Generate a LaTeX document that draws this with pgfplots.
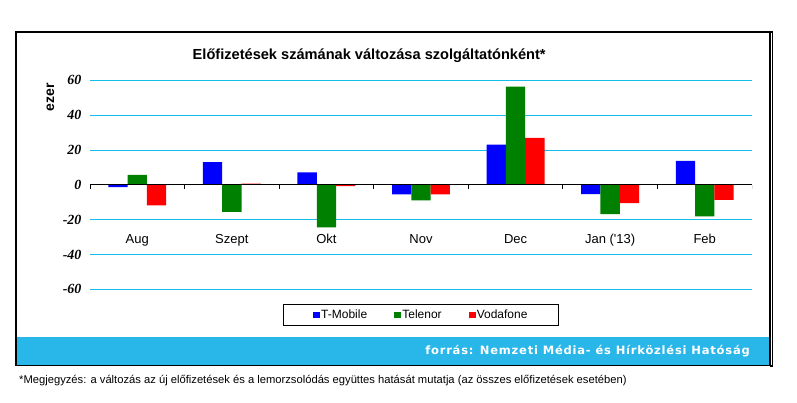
\documentclass[border=0pt]{standalone}
\usepackage{fontspec}
\setmainfont{Liberation Sans}
\newfontfamily\serifbi{Liberation Serif}
\newfontfamily\bandfont[LetterSpace=6.9]{DejaVu Sans}
\usepackage{pgfplots}
\pgfplotsset{compat=1.18}
\definecolor{gridc}{RGB}{20,190,235}
\definecolor{bandc}{RGB}{41,182,232}
\definecolor{tmob}{RGB}{0,0,255}
\definecolor{teln}{RGB}{0,128,0}
\definecolor{voda}{RGB}{255,0,0}
\begin{document}
\begin{tikzpicture}
\useasboundingbox (0,0) rectangle (797pt,-403pt);
\fill[bandc] (16pt,-336.7pt) rectangle (770pt,-365.5pt);
\draw[line width=1.2pt] (16pt,-32pt) rectangle (770pt,-365.5pt);
\draw[line width=1.2pt] (770pt,-32pt) -- (772.8pt,-32pt) -- (772.8pt,-366pt) -- (770pt,-366pt);
\node[anchor=base, inner sep=0, font=\bfseries\fontsize{14.6}{16}\selectfont] at (369.2pt,-59.3pt) {Előfizetések számának változása szolgáltatónként*};
\node[anchor=base, rotate=90, inner sep=0, font=\bfseries\fontsize{14}{16}\selectfont] at (54pt,-97.5pt) {ezer};
\begin{axis}[
  at={(90pt,-289.3pt)}, anchor=south west,
  scale only axis, width=662pt, height=209pt,
  xmin=-0.5, xmax=6.5, ymin=-60, ymax=60,
  axis line style={draw=none},
  ytick={-60,-40,...,60},
  ymajorgrids, grid style={gridc, line width=0.9pt},
  major tick length=0pt,
  xtick={0,...,6},
  xticklabels={Aug,Szept,Okt,Nov,Dec,{Jan (\textquotesingle 13)},Feb},
  xticklabel style={anchor=base, yshift=46pt, font=\fontsize{13}{15}\selectfont},
  yticklabel style={xshift=-5pt, font=\serifbi\bfseries\itshape\fontsize{14}{16}\selectfont},
  /pgf/number format/assume math mode=true,
  ybar=0pt, bar width=19.3pt,
  legend columns=3,
  legend style={at={(axis description cs:0.5,-0.123)}, anchor=center, draw=black, line width=1pt,
    font=\fontsize{12}{14}\selectfont, inner xsep=30pt, inner ysep=4pt,
    nodes={inner sep=1.2pt},
    /tikz/every even column/.append style={column sep=26pt}},
  legend image code/.code={\fill[#1] (0pt,-3.35pt) rectangle (6.7pt,3.35pt);},
]
\addplot[fill=tmob, draw=none] coordinates {(0,-1.3) (1,13.0) (2,7.2) (3,-5.5) (4,23.1) (5,-5.3) (6,13.8)};
\addplot[fill=teln, draw=none] coordinates {(0,5.7) (1,-15.6) (2,-24.5) (3,-9.0) (4,56.4) (5,-16.8) (6,-18.1)};
\addplot[fill=voda, draw=none] coordinates {(0,-11.8) (1,0.7) (2,-0.8) (3,-5.5) (4,27.0) (5,-10.5) (6,-8.7)};
\legend{T-Mobile,Telenor,Vodafone}
\draw[black, line width=1pt] (axis cs:-0.5,0) -- (axis cs:6.5,0);
\draw[black, line width=1pt] (axis cs:-0.5,0) -- ++(0pt,-4.5pt);
\draw[black, line width=1pt] (axis cs:0.5,0) -- ++(0pt,-4.5pt);
\draw[black, line width=1pt] (axis cs:1.5,0) -- ++(0pt,-4.5pt);
\draw[black, line width=1pt] (axis cs:2.5,0) -- ++(0pt,-4.5pt);
\draw[black, line width=1pt] (axis cs:3.5,0) -- ++(0pt,-4.5pt);
\draw[black, line width=1pt] (axis cs:4.5,0) -- ++(0pt,-4.5pt);
\draw[black, line width=1pt] (axis cs:5.5,0) -- ++(0pt,-4.5pt);
\draw[black, line width=1pt] (axis cs:6.5,0) -- ++(0pt,-4.5pt);
\end{axis}
\node[anchor=base east, inner sep=0, text=white, font=\bandfont\bfseries\fontsize{11.5}{13}\selectfont] at (750pt,-354pt) {forrás: Nemzeti Média- és Hírközlési Hatóság};
\node[anchor=base west, inner sep=0, font=\fontsize{11.2}{13}\selectfont] at (19pt,-383.7pt) {*Megjegyzés: a változás az új előfizetések és a lemorzsolódás együttes hatását mutatja (az összes előfizetések esetében)};
\end{tikzpicture}
\end{document}
